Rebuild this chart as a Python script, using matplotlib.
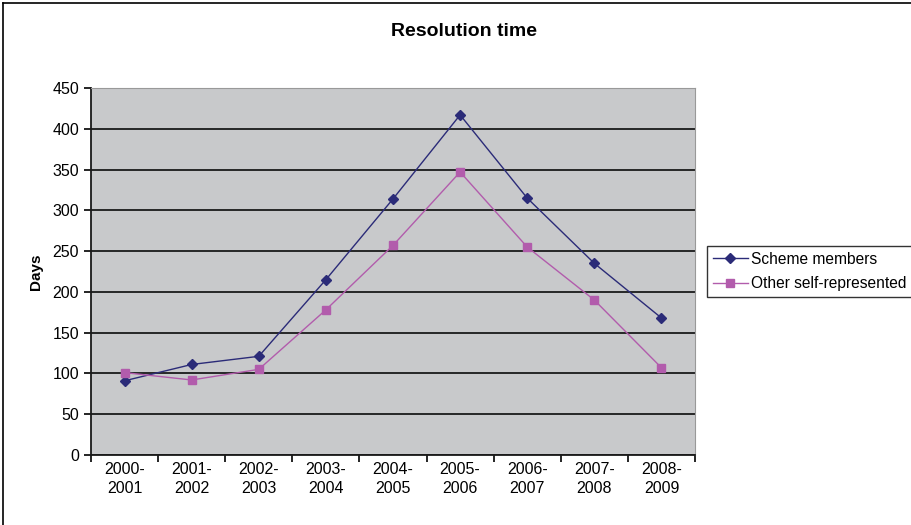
import numpy as np
import matplotlib.pyplot as plt

years = ['2000-\n2001', '2001-\n2002', '2002-\n2003', '2003-\n2004', '2004-\n2005',
         '2005-\n2006', '2006-\n2007', '2007-\n2008', '2008-\n2009']
scheme = [91, 111, 121, 215, 314, 417, 315, 235, 168]
other = [101, 92, 105, 178, 257, 347, 255, 190, 107]

plt.rcParams['font.family'] = ['Liberation Sans', 'DejaVu Sans']

fig = plt.figure(figsize=(9.12, 5.25), dpi=100)
ax = fig.add_axes([91 / 912, 70 / 525, 604 / 912, 367 / 525])
ax.set_facecolor('#c8c9cb')

x = np.arange(len(years)) + 0.5
ax.plot(x, scheme, color='#2b2b78', lw=1, marker='D', ms=5, label='Scheme members')
ax.plot(x, other, color='#b25cac', lw=1, marker='s', ms=5.5, label='Other self-represented')

ax.set_xlim(0, len(years))
ax.set_ylim(0, 450)
ax.set_yticks(np.arange(0, 451, 50))
ax.yaxis.grid(True, color='#1a1a1a', lw=1.3)
ax.set_axisbelow(True)

# category ticks between labels, labels centred
ax.set_xticks(np.arange(len(years) + 1))
ax.set_xticklabels([])
ax.set_xticks(x, minor=True)
ax.set_xticklabels(years, minor=True, linespacing=1.3)
ax.tick_params(axis='x', which='minor', length=0, pad=5, labelsize=11.5)
ax.tick_params(axis='x', which='major', length=5, direction='out', width=1.2)
ax.tick_params(axis='y', length=5, direction='out', width=1.2, labelsize=11.5)

for s in ['top', 'right']:
    ax.spines[s].set_color('#999999')
for s in ['left', 'bottom']:
    ax.spines[s].set_color('#1a1a1a')
    ax.spines[s].set_linewidth(1.3)

ax.set_ylabel('Days', fontweight='bold', fontsize=11, labelpad=7)
fig.text(464 / 912, 1 - 32 / 525, 'Resolution time', ha='center', va='center',
         fontweight='bold', fontsize=14)

leg = ax.legend(loc='center left', bbox_to_anchor=(1.02, 0.5), frameon=True,
                fancybox=False, fontsize=11.2, handlelength=2.3, borderpad=0.35,
                labelspacing=0.6, handletextpad=0.2, borderaxespad=0)
leg.get_frame().set_edgecolor('black')
leg.get_frame().set_linewidth(1)

# outer border (chart cropped at right and bottom)
fig.add_artist(plt.Line2D([3 / 912, 3 / 912], [0, 1 - 3 / 525], transform=fig.transFigure,
                          color='black', lw=1.2))
fig.add_artist(plt.Line2D([3 / 912, 1], [1 - 3 / 525, 1 - 3 / 525], transform=fig.transFigure,
                          color='black', lw=1.2))

fig.savefig('out.png', dpi=100)
